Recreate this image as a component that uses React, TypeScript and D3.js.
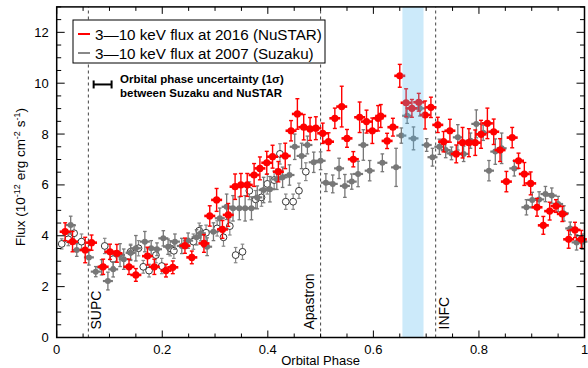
import React from 'react';
import * as d3 from 'd3';

// NuSTAR 2016 (red)
const redPhase = [0.016,0.030,0.054,0.066,0.088,0.101,0.114,0.137,0.150,0.172,0.185,0.207,0.220,0.243,0.256,0.279,0.290,0.303,0.314,0.325,0.338,0.349,0.361,0.374,0.385,0.398,0.409,0.420,0.433,0.444,0.456,0.468,0.480,0.491,0.504,0.515,0.527,0.540,0.550,0.562,0.574,0.587,0.598,0.609,0.614,0.626,0.637,0.650,0.662,0.673,0.686,0.698,0.709,0.722,0.733,0.745,0.757,0.769,0.781,0.793,0.804,0.816,0.828,0.840,0.852,0.863,0.875,0.886,0.898,0.910,0.922,0.934,0.946,0.958,0.970,0.982,0.994];
const redFlux = [4.16,3.77,3.44,3.73,2.78,3.37,3.31,2.78,2.46,3.20,2.78,2.63,2.76,3.61,3.15,3.70,4.78,5.41,4.25,4.82,5.93,6.00,6.00,6.39,6.65,6.87,7.11,6.52,7.14,8.13,8.79,8.27,8.20,8.23,8.03,7.70,8.62,9.08,7.83,7.01,8.66,8.49,8.13,8.62,8.71,7.73,8.27,10.29,9.23,9.01,9.25,8.75,9.05,8.36,7.70,8.13,7.22,7.66,7.66,7.66,7.99,8.42,8.09,7.37,6.13,7.86,6.95,6.43,6.06,5.12,4.41,4.97,5.17,4.86,3.86,4.23,3.86];
const redErr = [0.35,0.4,0.5,0.3,0.3,0.3,0.35,0.3,0.25,0.35,0.3,0.25,0.25,0.3,0.25,0.35,0.4,0.45,0.35,0.45,0.5,0.45,0.45,0.45,0.45,0.45,0.45,0.4,0.5,0.4,0.6,0.5,0.45,0.45,0.4,0.35,0.4,0.8,0.35,0.3,0.6,0.45,0.5,0.5,0.45,0.3,0.35,0.45,0.55,0.35,0.35,0.55,0.4,0.3,0.4,0.45,0.35,0.6,0.55,0.5,0.55,0.6,0.5,0.45,0.4,0.4,0.3,0.45,0.45,0.35,0.35,0.35,0.25,0.3,0.35,0.3,0.35];

// Suzaku 2007 (gray filled)
const grayPhase = [0.0265,0.038,0.061,0.074,0.085,0.097,0.107,0.120,0.127,0.140,0.150,0.167,0.179,0.190,0.202,0.211,0.224,0.237,0.249,0.265,0.273,0.285,0.297,0.309,0.322,0.334,0.346,0.357,0.369,0.380,0.392,0.404,0.417,0.428,0.441,0.451,0.464,0.475,0.487,0.500,0.510,0.523,0.535,0.546,0.559,0.571,0.581,0.593,0.617,0.643,0.653,0.664,0.676,0.688,0.701,0.712,0.725,0.737,0.748,0.760,0.771,0.784,0.795,0.808,0.819,0.831,0.843,0.867,0.890,0.901,0.914,0.926,0.938,0.950,0.961,0.973,0.985,0.996];
const grayFlux = [4.42,3.44,3.15,2.59,2.76,2.22,2.68,3.24,3.08,3.33,3.51,3.77,3.51,3.47,3.90,3.57,3.77,3.60,3.81,3.94,4.10,3.57,4.16,4.69,5.14,5.08,5.08,5.08,5.08,5.51,5.80,5.83,6.22,6.30,6.39,7.50,7.14,7.57,6.89,6.95,6.09,6.04,6.65,5.96,6.13,6.43,7.57,6.56,6.87,6.69,7.94,8.72,7.83,9.01,7.57,7.09,7.50,7.37,7.24,7.87,7.22,7.74,8.40,8.05,6.56,7.31,7.44,6.65,5.12,5.41,5.43,5.64,5.58,5.25,4.88,4.29,3.74,3.77];
const grayErr = [0.35,0.25,0.3,0.2,0.3,0.35,0.3,0.45,0.4,0.3,0.5,0.4,0.3,0.25,0.3,0.3,0.3,0.3,0.3,0.3,0.3,0.35,0.35,0.4,0.5,0.5,0.45,0.5,0.45,0.45,0.5,0.5,0.4,0.4,0.4,0.5,0.5,0.35,0.4,0.35,0.35,0.35,0.4,0.45,0.3,0.5,0.6,0.4,0.35,0.75,0.3,0.3,0.45,0.3,0.25,0.35,0.3,0.3,0.25,0.5,0.3,0.3,0.55,0.3,0.4,0.5,0.6,0.3,0.3,0.3,0.3,0.3,0.3,0.3,0.3,0.25,0.3,0.3];

// Suzaku 2007 (open circles)
const openPhase = [0.0095,0.022,0.033,0.047,0.091,0.107,0.140,0.155,0.164,0.175,0.188,0.199,0.215,0.222,0.259,0.270,0.283,0.304,0.316,0.328,0.339,0.352,0.365,0.377,0.388,0.399,0.412,0.423,0.434,0.448,0.459,0.472];
const openFlux = [3.68,3.86,4.10,3.77,3.60,3.08,3.37,3.51,2.78,2.63,3.24,2.81,3.51,3.41,3.77,4.20,4.12,4.29,3.94,4.38,3.24,3.37,5.77,5.43,5.51,6.04,6.19,7.22,5.34,5.34,5.77,6.52];
const openErr = [0.2,0.25,0.3,0.3,0.3,0.3,0.3,0.3,0.25,0.25,0.3,0.3,0.3,0.3,0.3,0.3,0.3,0.3,0.35,0.35,0.3,0.3,0.35,0.35,0.35,0.4,0.35,0.4,0.3,0.3,0.3,0.35];

const xTickValues = [0, 0.2, 0.4, 0.6, 0.8, 1];
const yTickValues = [0, 2, 4, 6, 8, 10, 12];
const phaseLines = [
  { phase: 0.06, label: 'SUPC', side: 'right' },
  { phase: 0.5, label: 'Apastron', side: 'left' },
  { phase: 0.718, label: 'INFC', side: 'right' },
];
const bandRange = [0.655, 0.695];
const legendLabels = ['3\u201410 keV flux at 2016 (NuSTAR)', '3\u201410 keV flux at 2007 (Suzaku)'];
const noteLines = ['Orbital phase uncertainty (1\u03c3)', 'between Suzaku and NuSTAR'];

const W = 588, H = 368;
const FONT = '"Liberation Sans", Arial, Helvetica, sans-serif';
const RED = '#ff0000';
const GRAY = '#777777';

export default function App() {
  const x = d3.scaleLinear().domain([0, 1]).range([56.7, 584.5]);
  const y = d3.scaleLinear().domain([0, 13]).range([337.5, 6.9]);
  const [x0, x1] = x.range();
  const [yb, yt] = y.range();

  const minorX = d3.range(0, 1.0001, 0.05);
  const minorY = d3.range(0, 13.0001, 0.5);

  const red = redPhase.map((p, i) => ({ p, f: redFlux[i], e: redErr[i] }));
  const gray = grayPhase.map((p, i) => ({ p, f: grayFlux[i], e: grayErr[i] }));
  const open = openPhase.map((p, i) => ({ p, f: openFlux[i], e: openErr[i] }));

  const errBar = (d: any, color: string, w: number, cap: number, key: string) => (
    <g key={key}>
      <line x1={x(d.p)} x2={x(d.p)} y1={y(d.f - d.e)} y2={y(d.f + d.e)} stroke={color} strokeWidth={w} />
      <line x1={x(d.p) - cap} x2={x(d.p) + cap} y1={y(d.f - d.e)} y2={y(d.f - d.e)} stroke={color} strokeWidth={w} />
      <line x1={x(d.p) - cap} x2={x(d.p) + cap} y1={y(d.f + d.e)} y2={y(d.f + d.e)} stroke={color} strokeWidth={w} />
    </g>
  );

  const isMajorX = (v: number) => Math.abs(v * 5 - Math.round(v * 5)) < 1e-6;
  const isMajorY = (v: number) => Math.abs(v / 2 - Math.round(v / 2)) < 1e-6;

  const noteX = x(0.087);
  const noteY = y(9.95);
  const noteHalf = x(0.017) - x(0);

  return (
    <svg width={W} height={H} style={{ position: 'absolute', left: 0, top: 0, background: '#fff' }} fontFamily={FONT}>
      <rect x={0} y={0} width={W} height={H} fill="#fff" />
      {/* dashed phase lines */}
      {phaseLines.map((l) => (
        <line key={l.label} x1={x(l.phase)} x2={x(l.phase)} y1={yb} y2={yt} stroke="#444" strokeWidth={1} strokeDasharray="3,3" />
      ))}
      {phaseLines.map((l) => {
        const px = l.side === 'right' ? x(l.phase) + 13 : x(l.phase) - 7;
        return (
          <text key={'t' + l.label} transform={`translate(${px},${yb - 8}) rotate(-90)`} fontSize={14} fill="#000">{l.label}</text>
        );
      })}
      {/* open circles */}
      {open.map((d, i) => errBar(d, '#888', 1.2, 1.8, 'oe' + i))}
      {open.map((d, i) => (
        <g key={'o' + i}>
          <circle cx={x(d.p)} cy={y(d.f)} r={3.4} fill="#fff" stroke="#222" strokeWidth={0.9} />
        </g>
      ))}
      {/* gray filled */}
      {gray.map((d, i) => errBar(d, GRAY, 1.3, 1.8, 'ge' + i))}
      {gray.map((d, i) => (
        <g key={'g' + i}>
          <line x1={x(d.p) - 5} x2={x(d.p) + 5} y1={y(d.f)} y2={y(d.f)} stroke={GRAY} strokeWidth={2.2} />
          <circle cx={x(d.p)} cy={y(d.f)} r={3} fill={GRAY} />
        </g>
      ))}
      {/* red */}
      {red.map((d, i) => errBar(d, RED, 1.4, 2, 're' + i))}
      {red.map((d, i) => (
        <g key={'r' + i}>
          <line x1={x(d.p) - 5.5} x2={x(d.p) + 5.5} y1={y(d.f)} y2={y(d.f)} stroke={RED} strokeWidth={2.6} />
          <circle cx={x(d.p)} cy={y(d.f)} r={3.6} fill={RED} />
        </g>
      ))}
      {/* band */}
      <rect x={x(bandRange[0])} y={yt} width={x(bandRange[1]) - x(bandRange[0])} height={yb - yt} fill="rgb(85,185,238)" opacity={0.3} />

      {/* axes ticks */}
      {minorX.map((v, i) => {
        const L = isMajorX(v) ? 7 : 4;
        return (
          <g key={'xt' + i}>
            <line x1={x(v)} x2={x(v)} y1={yb} y2={yb - L} stroke="#000" strokeWidth={1} />
            <line x1={x(v)} x2={x(v)} y1={yt} y2={yt + L} stroke="#000" strokeWidth={1} />
          </g>
        );
      })}
      {minorY.map((v, i) => {
        const L = isMajorY(v) ? 8 : 4.5;
        return (
          <g key={'yt' + i}>
            <line x1={x0} x2={x0 + L} y1={y(v)} y2={y(v)} stroke="#000" strokeWidth={1} />
            <line x1={x1} x2={x1 - L} y1={y(v)} y2={y(v)} stroke="#000" strokeWidth={1} />
          </g>
        );
      })}
      <rect x={x0} y={yt} width={x1 - x0} height={yb - yt} fill="none" stroke="#000" strokeWidth={1.5} />

      {xTickValues.map((v) => (
        <text key={'xl' + v} x={x(v)} y={yb + 16} fontSize={13} textAnchor="middle" fill="#000">{d3.format('~g')(v)}</text>
      ))}
      {yTickValues.map((v) => (
        <text key={'yl' + v} x={x0 - 8} y={y(v) + 4.5} fontSize={13} textAnchor="end" fill="#000">{v}</text>
      ))}
      <text x={(x0 + x1) / 2} y={H - 3} fontSize={13} textAnchor="middle" fill="#000">Orbital Phase</text>
      <text transform={`translate(25,177) rotate(-90)`} fontSize={13.5} textAnchor="middle" fill="#000">
        Flux (10<tspan fontSize={9} dy={-5}>-12</tspan><tspan dy={5}> erg cm</tspan><tspan fontSize={9} dy={-5}>-2</tspan><tspan dy={5}> s</tspan><tspan fontSize={9} dy={-5}>-1</tspan><tspan dy={5}>)</tspan>
      </text>

      {/* legend */}
      <rect x={73} y={20} width={252} height={43} fill="#fff" stroke="#000" strokeWidth={1} />
      <line x1={78} x2={90} y1={34} y2={34} stroke={RED} strokeWidth={2} />
      <line x1={78} x2={90} y1={53} y2={53} stroke="#888" strokeWidth={2} />
      <text x={95} y={39.5} fontSize={15.2} fill="#000">{legendLabels[0]}</text>
      <text x={95} y={58.5} fontSize={15.2} fill="#000">{legendLabels[1]}</text>

      {/* uncertainty note */}
      <line x1={noteX - noteHalf} x2={noteX + noteHalf} y1={noteY} y2={noteY} stroke="#000" strokeWidth={2} />
      <line x1={noteX - noteHalf} x2={noteX - noteHalf} y1={noteY - 4} y2={noteY + 4} stroke="#000" strokeWidth={2} />
      <line x1={noteX + noteHalf} x2={noteX + noteHalf} y1={noteY - 4} y2={noteY + 4} stroke="#000" strokeWidth={2} />
      <text x={120} y={83} fontSize={11.5} fontWeight="bold" fill="#000">{noteLines[0]}</text>
      <text x={120} y={97} fontSize={11.5} fontWeight="bold" fill="#000">{noteLines[1]}</text>
    </svg>
  );
}
